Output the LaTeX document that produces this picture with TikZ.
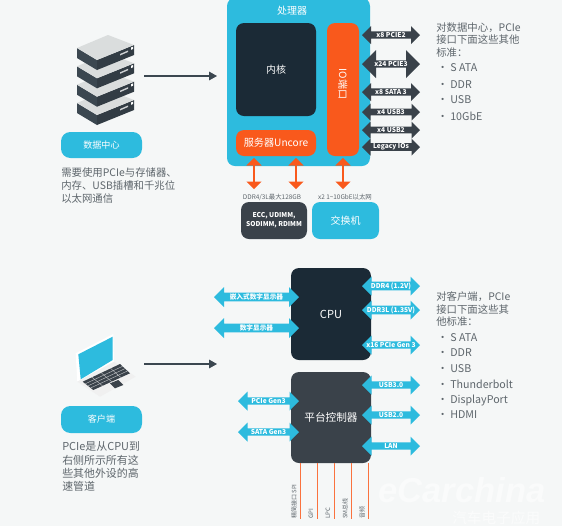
\documentclass[tikz,border=0pt]{standalone}
\usepackage{fontspec}
\setmainfont{Noto Sans CJK SC}
\newfontfamily\wmfont{Liberation Sans}
\usetikzlibrary{shapes.arrows,arrows.meta,calc}
\definecolor{bgc}{HTML}{F5F7F7}
\definecolor{cyanc}{HTML}{2DBBDE}
\definecolor{navyc}{HTML}{1B2A36}
\definecolor{slatec}{HTML}{3A424A}
\definecolor{orangec}{HTML}{F9591C}
\definecolor{greyt}{HTML}{5E666C}
\definecolor{flank}{HTML}{3B4750}
\definecolor{topf}{HTML}{DADDDD}
\newcommand{\fpx}[2]{\fontsize{#1}{#2}\selectfont}
\tikzset{
  box/.style={rounded corners=6pt,inner sep=0pt,text=white,align=center},
  hbar/.style={double arrow,double arrow head extend=3.3pt,inner sep=0pt,text=white,font=\fpx{5}{6}\bfseries},
  darkbar/.style={hbar,fill=slatec},
  cyanbar/.style={hbar,fill=cyanc},
  vbar/.style={double arrow,shape border rotate=90,fill=orangec,inner sep=0pt,minimum height=23.5pt,minimum width=11.5pt,double arrow head extend=1.4pt},
  bodytxt/.style={text=greyt,anchor=west,align=left,inner sep=0pt,font=\fpx{7.8}{9.7}},
  smalltxt/.style={text=greyt,inner sep=0pt,font=\fpx{4.8}{6}},
  vtxt/.style={rotate=90,anchor=west,inner sep=0pt,text=greyt,font=\fpx{4.5}{6}},
  pointer/.style={draw=flank,line width=0.8pt,-{Triangle[length=6pt,width=6.5pt]}},
  thinred/.style={draw=orangec!85,line width=0.6pt},
}
\begin{document}
\begin{tikzpicture}[x=0.75pt,y=-0.75pt]
\useasboundingbox (0,0) rectangle (562,526);
\fill[bgc] (0,0) rectangle (562,526);
\begin{scope}
\clip (0,0) rectangle (562,526);
% ---- data-centre stack
\foreach \d in {55,36.7,18.3,0}{
  \begin{scope}[shift={(0,\d)}]
    \fill[flank] (77,48) -- (97,60) -- (97,70) -- (77,58) -- cycle;
    \fill[flank!85!black] (97,60) -- (134,45) -- (134,55) -- (97,70) -- cycle;
    \fill[topf] (77,48) -- (108,35) -- (134,45) -- (97,60) -- cycle;
    \fill[white!75!flank] (120,54) -- (128,50.5) -- (128,52) -- (120,55.5) -- cycle;
    \fill[white] (131,47.5) -- (133,46.7) -- (133,49) -- (131,49.8) -- cycle;
  \end{scope}
}
% ---- laptop
\fill[white] (75.7,353.3) -- (113.3,334) -- (114,361.7) -- (77.3,381.7) -- cycle;
\fill[cyanc] (78.3,354.3) -- (112.7,336.7) -- (112.7,360) -- (80.7,379.3) -- cycle;
\fill[white!94!black] (77.3,381.7) -- (114,361.7) -- (135.7,376.7) -- (100,396.7) -- cycle;
\fill[slatec] (82.7,381.7) -- (120,364) -- (130,373.3) -- (93.3,390) -- cycle;
\foreach \k in {0.25,0.5,0.75}
  \draw[white!70!slatec,line width=0.3pt] ($(82.7,381.7)!\k!(120,364)$) -- ($(93.3,390)!\k!(130,373.3)$);
\foreach \k in {0.25,0.5,0.75}
  \draw[white!70!slatec,line width=0.3pt] ($(82.7,381.7)!\k!(93.3,390)$) -- ($(120,364)!\k!(130,373.3)$);
\fill[slatec] (110,383.3) -- (118.3,380) -- (123.3,385) -- (115,388.3) -- cycle;
\end{scope}
% ---- processor
\node[box,fill=cyanc,minimum width=143*0.75pt,minimum height=168*0.75pt] (proc) at (298.5,82) {};
\node[text=white,inner sep=0pt,font=\fpx{7.5}{9}] (proct) at (292,11) {处理器};
\node[box,fill=navyc,minimum width=80*0.75pt,minimum height=93*0.75pt,font=\fpx{7.5}{9}] (core) at (276,69.5) {内核};
\node[box,fill=orangec,minimum width=80*0.75pt,minimum height=26*0.75pt,font=\fpx{7.6}{9}] (uncore) at (276,143) {服务器Uncore};
\node[box,fill=orangec,minimum width=32*0.75pt,minimum height=133*0.75pt] (io) at (343,89.5) {};
\node[text=white,inner sep=0pt,rotate=270,font=\fpx{7.5}{9}] (iot) at (343,84) {IO端口};
% dark bars
\node[darkbar,minimum height=58*0.75pt,minimum width=18*0.75pt] (b1) at (391,35) {x8 PCIE2};
\node[darkbar,minimum height=58*0.75pt,minimum width=28*0.75pt,double arrow head extend=6pt] (b2) at (391,64) {x24 PCIE3};
\node[darkbar,minimum height=58*0.75pt,minimum width=18*0.75pt] (b3) at (391,92) {x8 SATA 3};
\node[darkbar,minimum height=58*0.75pt,minimum width=17*0.75pt] (b4) at (391,112) {x4 USB3};
\node[darkbar,minimum height=58*0.75pt,minimum width=17*0.75pt] (b5) at (391,130) {x4 USB2};
\node[darkbar,minimum height=58*0.75pt,minimum width=17*0.75pt] (b6) at (391,147) {Legacy IOs};
% orange bars
\node[vbar] (v1) at (254,173.5) {};
\node[vbar] (v2) at (296,173.5) {};
\node[vbar] (v3) at (343,173.5) {};
\node[smalltxt] (l1) at (272,197) {DDR4/3L最大128GB};
\node[smalltxt] (l2) at (345,197) {x2 1\textasciitilde 10GbE以太网};
\node[box,fill=slatec,minimum width=66*0.75pt,minimum height=37*0.75pt,font=\fpx{5}{7}\bfseries] (ecc) at (274,220.5) {ECC, UDIMM,\\SODIMM, RDIMM};
\node[box,fill=cyanc,minimum width=67*0.75pt,minimum height=37*0.75pt,font=\fpx{7.5}{9}] (sw) at (345.5,220.5) {交换机};
% ---- left column, top
\node[box,rounded corners=7pt,fill=cyanc,minimum width=81*0.75pt,minimum height=26*0.75pt,font=\fpx{6.8}{9}] (dc) at (101.5,145) {数据中心};
\node[bodytxt] (dct) at (61,185.5) {需要使用PCIe与存储器、\\内存、USB插槽和千兆位\\以太网通信};
\coordinate (s1) at (144,76);
\coordinate (e1) at (217,76);
\draw[pointer] (s1) -- (e1);
% ---- right list, top
\node[bodytxt] (r1) at (436,40) {对数据中心，PCIe\\接口下面这些其他\\标准：};
\foreach \y/\t [count=\i] in {68/S ATA,85/DDR,100/USB,116/10GbE}
  \node[bodytxt,font=\fpx{8}{10}] (ra\i) at (437,\y) {•\ \t};
% ---- CPU and controller
\node[box,fill=navyc,minimum width=80*0.75pt,minimum height=92*0.75pt,font=\fpx{8.3}{10}] (cpu) at (331,314) {CPU};
\node[box,fill=slatec,minimum width=80*0.75pt,minimum height=91*0.75pt,font=\fpx{8}{10}] (pch) at (331,417.5) {平台控制器};
% cyan bars right
\foreach \y/\t [count=\i] in {286/DDR4 (1.2V),310/DDR3L (1.35V),345/x16 PCIe Gen 3,385/USB3.0,415/USB2.0,446/LAN}
  \node[cyanbar,minimum height=58*0.75pt,minimum width=19*0.75pt] (c\i) at (391,\y) {\t};
% cyan bars left
\node[cyanbar,minimum height=85*0.75pt,minimum width=20*0.75pt] (d1) at (256.5,297) {嵌入式数字显示器};
\node[cyanbar,minimum height=85*0.75pt,minimum width=20*0.75pt] (d2) at (256.5,328) {数字显示器};
\node[cyanbar,minimum height=61*0.75pt,minimum width=19*0.75pt] (d3) at (268.5,401) {PCIe Gen3};
\node[cyanbar,minimum height=61*0.75pt,minimum width=19*0.75pt] (d4) at (268.5,432) {SATA Gen3};
% bottom lines
\foreach \x/\t [count=\i] in {300/精简接口 SPI,317/GPI,334/LPC,351/SM总线,368/音频}{
  \coordinate (t\i) at (\x,519);
  \coordinate (f\i) at (\x,463);
  \draw[thinred] (f\i) -- (t\i);
  \node[vtxt] (n\i) at (\x-6,519) {\t};
}
% ---- left column, bottom
\coordinate (s2) at (144,364);
\coordinate (e2) at (217,364);
\draw[pointer] (s2) -- (e2);
\node[box,rounded corners=7pt,fill=cyanc,minimum width=81*0.75pt,minimum height=27*0.75pt,font=\fpx{6.8}{9}] (cl) at (101.5,419.5) {客户端};
\node[bodytxt,font=\fpx{8.2}{9.8}] (clt) at (62,466.5) {PCIe是从CPU到\\右侧所示所有这\\些其他外设的高\\速管道};
% ---- right list, bottom
\node[bodytxt] (r2) at (436,309) {对客户端，PCIe\\接口下面这些其\\他标准：};
\foreach \y/\t [count=\i] in {338/S ATA,353/DDR,369/USB,384/Thunderbolt,400/DisplayPort,415/HDMI}
  \node[bodytxt,font=\fpx{8}{10}] (rb\i) at (437,\y) {•\ \t};
% ---- watermark
\node[anchor=west,inner sep=0pt,text=white,opacity=.5,font=\wmfont\fpx{26}{28}\bfseries\itshape] (wm) at (378,490) {eCarchina};
\node[anchor=west,inner sep=0pt,text=white,opacity=.6,font=\fpx{11}{12}] (wm2) at (452,518) {汽车电子应用};
\end{tikzpicture}
\end{document}
